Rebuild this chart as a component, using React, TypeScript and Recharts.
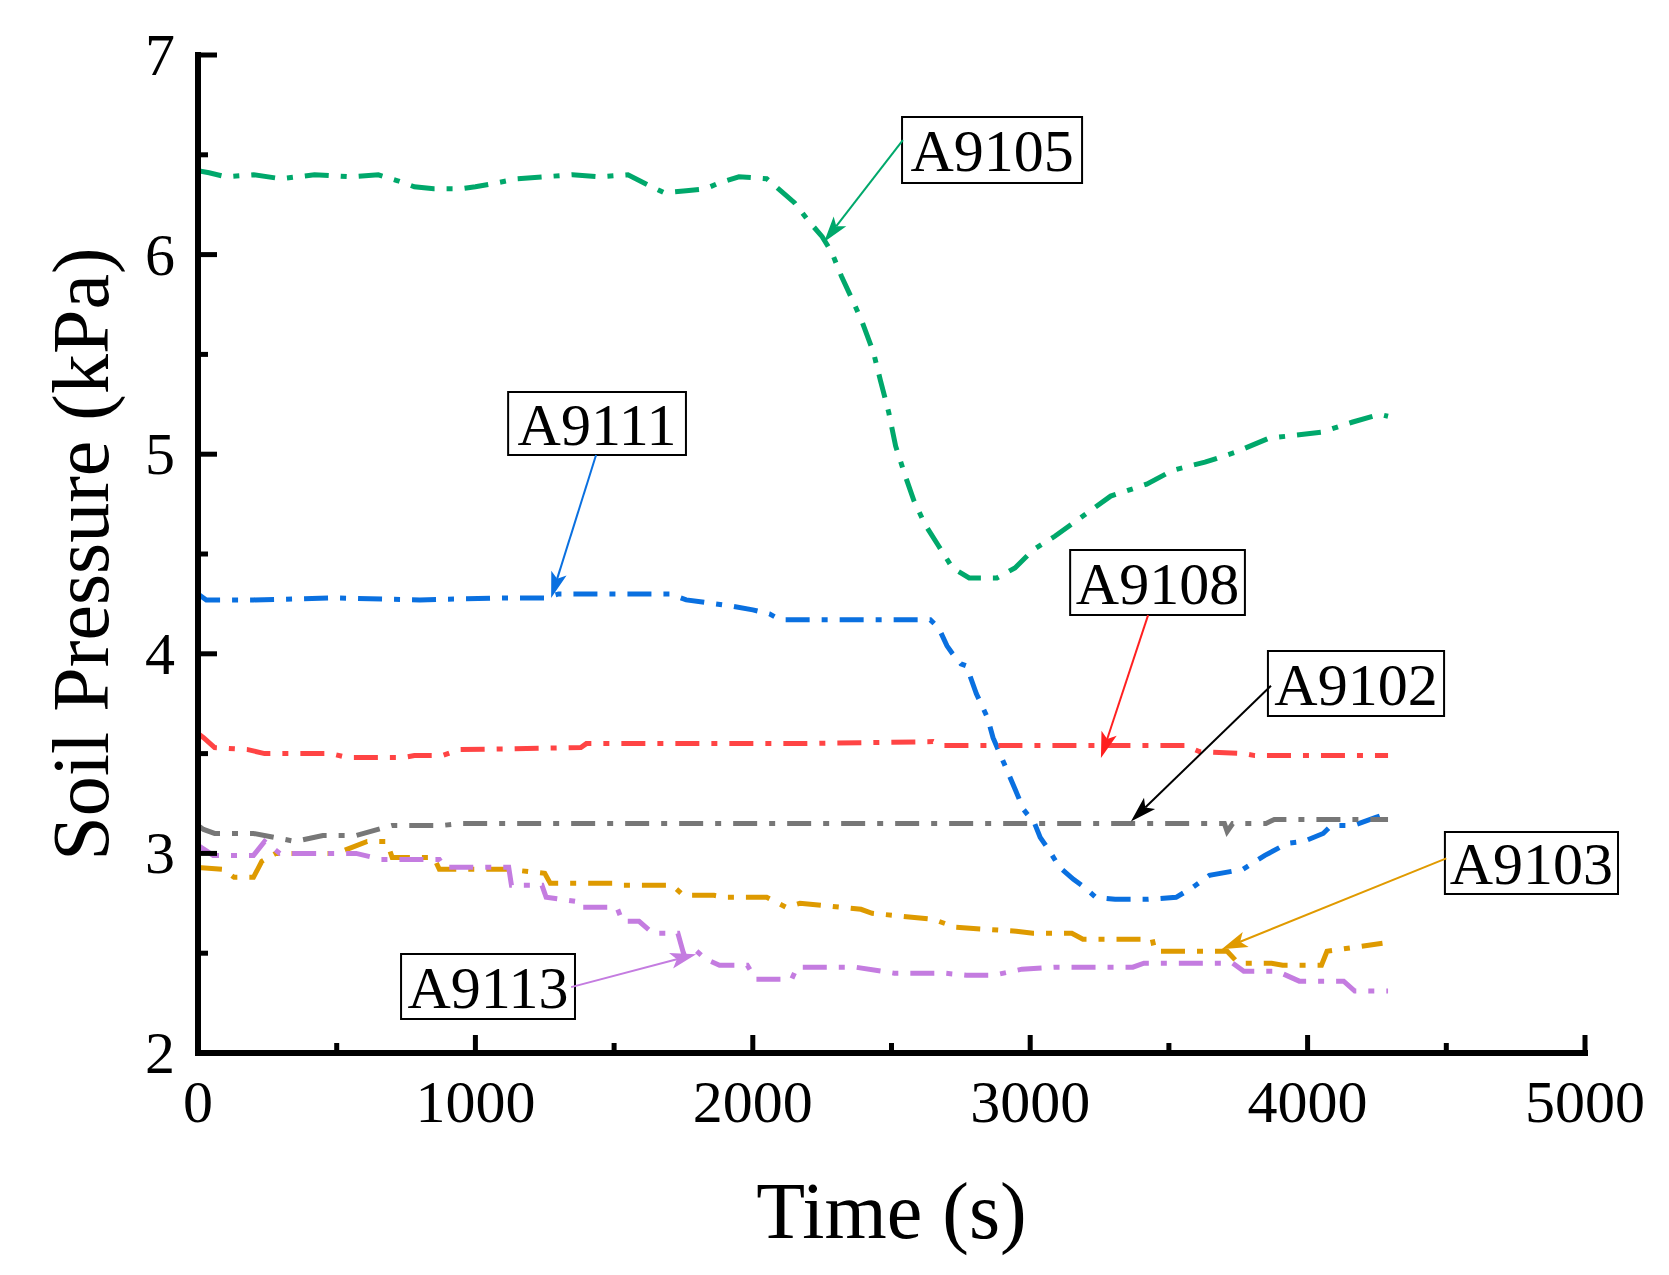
import React from 'react';
import { LineChart, Line, XAxis, YAxis, ReferenceArea, ReferenceLine } from 'recharts';

const FONT = '"Liberation Serif", "Times New Roman", serif';

// ---- tick values ----
const xTicks = [0, 500, 1000, 1500, 2000, 2500, 3000, 3500, 4000, 4500, 5000];
const yTicks = [2, 2.5, 3, 3.5, 4, 4.5, 5, 5.5, 6, 6.5, 7];

// ---- A9105 (green) ----
const a9105T = [0, 40, 100, 200, 300, 420, 550, 650, 720, 780, 850, 950, 1000, 1080, 1150, 1250, 1350, 1450, 1550, 1620, 1680, 1760, 1830, 1880, 1950, 2050, 2100, 2150, 2200, 2250, 2285, 2320, 2360, 2395, 2435, 2460, 2490, 2515, 2550, 2580, 2620, 2670, 2720, 2780, 2880, 2945, 3010, 3090, 3170, 3290, 3420, 3515, 3630, 3740, 3860, 4050, 4160, 4260, 4290];
const a9105V = [6.42, 6.41, 6.39, 6.40, 6.38, 6.40, 6.39, 6.40, 6.37, 6.34, 6.33, 6.33, 6.34, 6.36, 6.38, 6.39, 6.40, 6.39, 6.40, 6.35, 6.31, 6.32, 6.33, 6.36, 6.39, 6.38, 6.32, 6.26, 6.17, 6.09, 6.01, 5.89, 5.77, 5.66, 5.51, 5.37, 5.21, 5.04, 4.89, 4.77, 4.65, 4.54, 4.43, 4.38, 4.38, 4.43, 4.52, 4.59, 4.67, 4.79, 4.85, 4.92, 4.96, 5.01, 5.08, 5.11, 5.16, 5.20, 5.19];

// ---- A9111 (blue) ----
const a9111T = [0, 30, 200, 500, 800, 1100, 1250, 1300, 1500, 1700, 1760, 1920, 2000, 2060, 2100, 2400, 2640, 2670, 2700, 2720, 2750, 2770, 2806, 2846, 2866, 2906, 2946, 2976, 3016, 3036, 3066, 3106, 3156, 3196, 3236, 3306, 3426, 3526, 3586, 3646, 3766, 3846, 3926, 3986, 4056, 4086, 4166, 4246, 4286];
const a9111V = [4.30, 4.27, 4.27, 4.28, 4.27, 4.28, 4.28, 4.30, 4.30, 4.30, 4.27, 4.24, 4.22, 4.20, 4.17, 4.17, 4.17, 4.13, 4.04, 4.00, 3.95, 3.94, 3.80, 3.68, 3.58, 3.45, 3.32, 3.22, 3.15, 3.08, 3.02, 2.93, 2.87, 2.83, 2.78, 2.77, 2.77, 2.78, 2.83, 2.89, 2.92, 2.99, 3.05, 3.06, 3.10, 3.14, 3.14, 3.18, 3.20];

// ---- A9108 (red) ----
const a9108T = [0, 20, 60, 180, 240, 480, 540, 740, 780, 880, 940, 1380, 1400, 2170, 2650, 2680, 3560, 3610, 3770, 3810, 4290];
const a9108V = [3.60, 3.58, 3.53, 3.52, 3.50, 3.50, 3.48, 3.48, 3.49, 3.49, 3.52, 3.53, 3.55, 3.55, 3.56, 3.54, 3.54, 3.51, 3.50, 3.49, 3.49];

// ---- A9102 (grey) ----
const a9102T = [0, 20, 60, 200, 350, 450, 570, 700, 880, 950, 3700, 3710, 3730, 3850, 3880, 4290];
const a9102V = [3.14, 3.12, 3.10, 3.10, 3.06, 3.09, 3.09, 3.14, 3.14, 3.15, 3.15, 3.11, 3.15, 3.15, 3.17, 3.17];

// ---- A9103 (orange) ----
const a9103T = [0, 90, 130, 200, 230, 280, 500, 610, 680, 700, 850, 870, 1120, 1250, 1270, 1500, 1530, 1710, 1750, 1860, 1900, 2050, 2120, 2170, 2390, 2430, 2650, 2730, 2950, 3010, 3150, 3190, 3440, 3450, 3710, 3750, 3870, 3910, 4050, 4070, 4270];
const a9103V = [2.93, 2.92, 2.88, 2.88, 2.96, 3.00, 3.00, 3.06, 3.06, 2.98, 2.98, 2.92, 2.92, 2.90, 2.85, 2.85, 2.84, 2.84, 2.79, 2.79, 2.78, 2.78, 2.73, 2.75, 2.72, 2.70, 2.67, 2.63, 2.61, 2.60, 2.60, 2.57, 2.57, 2.51, 2.51, 2.45, 2.45, 2.44, 2.44, 2.51, 2.55];

// ---- A9113 (purple) ----
const a9113T = [0, 55, 200, 240, 295, 570, 660, 870, 890, 1120, 1130, 1240, 1255, 1360, 1370, 1510, 1530, 1590, 1640, 1730, 1750, 1790, 1830, 1880, 1980, 2010, 2140, 2160, 2370, 2510, 2690, 2770, 2870, 2970, 3090, 3370, 3410, 3730, 3770, 3890, 3970, 4130, 4170, 4290];
const a9113V = [3.04, 2.99, 2.99, 3.06, 3.00, 3.00, 2.97, 2.97, 2.93, 2.93, 2.84, 2.84, 2.78, 2.76, 2.73, 2.73, 2.66, 2.66, 2.60, 2.60, 2.50, 2.52, 2.47, 2.44, 2.44, 2.37, 2.37, 2.43, 2.43, 2.40, 2.40, 2.39, 2.39, 2.42, 2.43, 2.43, 2.45, 2.45, 2.41, 2.41, 2.36, 2.36, 2.31, 2.31];

// ---- annotation labels (data coordinates) ----
const labelNames = ['A9105', 'A9111', 'A9108', 'A9102', 'A9103', 'A9113'];
const labelColors = ['#00A86B', '#0A70E0', '#FF2020', '#000000', '#E09A00', '#C47CE0'];
const boxX1 = [2538, 1118, 3144, 3857, 4495, 732];
const boxX2 = [3187, 1759, 3774, 4492, 5119, 1359];
const boxY1 = [6.359, 4.996, 4.194, 3.688, 2.797, 2.170];
const boxY2 = [6.689, 5.312, 4.520, 4.014, 3.107, 2.496];
const arrowFromX = [2541, 1435, 3425, 3868, 4500, 1345];
const arrowFromY = [6.574, 4.996, 4.194, 3.840, 2.975, 2.330];
const arrowToX = [2257, 1273, 3255, 3363, 3690, 1796];
const arrowToY = [6.063, 4.280, 3.478, 3.160, 2.520, 2.495];

const zip = (t: number[], v: number[]) => t.map((x, i) => ({ t: x, v: v[i] }));

const series = [
  { name: 'A9105', color: '#00A86B', data: zip(a9105T, a9105V) },
  { name: 'A9111', color: '#0A70E0', data: zip(a9111T, a9111V) },
  { name: 'A9108', color: '#FF4444', data: zip(a9108T, a9108V) },
  { name: 'A9102', color: '#777777', data: zip(a9102T, a9102V) },
  { name: 'A9103', color: '#DE9A00', data: zip(a9103T, a9103V) },
  { name: 'A9113', color: '#C47CE0', data: zip(a9113T, a9113V) },
];

const XTick = (props: any) => {
  const { x, y, payload } = props;
  const v = payload.value;
  const major = v % 1000 === 0;
  return (
    <g>
      <line x1={x} y1={y} x2={x} y2={y - (major ? 18 : 10)} stroke="#000" strokeWidth={5} />
      {major && (
        <text x={x} y={y + 69} textAnchor="middle" fontSize={60} fontFamily={FONT} fill="#000">
          {v}
        </text>
      )}
    </g>
  );
};

const YTick = (props: any) => {
  const { x, y, payload } = props;
  const v = payload.value;
  const major = Math.abs(v - Math.round(v)) < 1e-6;
  return (
    <g>
      <line x1={x} y1={y} x2={x + (major ? 19 : 10)} y2={y} stroke="#000" strokeWidth={5} />
      {major && (
        <text x={x - 23} y={y + 20} textAnchor="end" fontSize={60} fontFamily={FONT} fill="#000">
          {v}
        </text>
      )}
    </g>
  );
};

const arrowShape = (color: string) => (props: any) => {
  const { x1, y1, x2, y2 } = props;
  const dx = x2 - x1;
  const dy = y2 - y1;
  const len = Math.hypot(dx, dy) || 1;
  const ux = dx / len;
  const uy = dy / len;
  const hl = 26;
  const hw = 8;
  const bx = x2 - ux * hl;
  const by = y2 - uy * hl;
  const nx = x2 - ux * (hl - 6);
  const ny = y2 - uy * (hl - 6);
  const pts = `${x2},${y2} ${bx - uy * hw},${by + ux * hw} ${nx},${ny} ${bx + uy * hw},${by - ux * hw}`;
  return (
    <g>
      <line x1={x1} y1={y1} x2={nx} y2={ny} stroke={color} strokeWidth={2} />
      <polygon points={pts} fill={color} />
    </g>
  );
};

export default function App() {
  return (
    <div style={{ position: 'absolute', left: 0, top: 0, width: 1669, height: 1275, background: '#fff' }}>
      <LineChart width={1669} height={1275} margin={{ top: 55, right: 84, bottom: 122, left: 98 }}>
        <XAxis
          dataKey="t"
          type="number"
          domain={[0, 5000]}
          ticks={xTicks}
          interval={0}
          allowDataOverflow
          height={100}
          tickSize={0}
          tickMargin={0}
          tickLine={false}
          tick={<XTick />}
          axisLine={{ stroke: '#000', strokeWidth: 6, strokeLinecap: 'square' }}
          label={{
            content: (p: any) => {
              const vb = p.viewBox || {};
              return (
                <text x={vb.x + vb.width / 2} y={vb.y + 185} textAnchor="middle" fontSize={80} fontFamily={FONT} fill="#000">
                  Time (s)
                </text>
              );
            },
          }}
        />
        <YAxis
          type="number"
          domain={[2, 7]}
          ticks={yTicks}
          interval={0}
          allowDataOverflow
          width={100}
          tickSize={0}
          tickMargin={0}
          tickLine={false}
          tick={<YTick />}
          axisLine={{ stroke: '#000', strokeWidth: 6, strokeLinecap: 'square' }}
          label={{
            content: (p: any) => {
              const vb = p.viewBox || {};
              const cx = vb.x + 10;
              const cy = vb.y + vb.height / 2;
              return (
                <text x={cx} y={cy} transform={`rotate(-90, ${cx}, ${cy})`} textAnchor="middle" fontSize={80} fontFamily={FONT} fill="#000">
                  Soil Pressure (kPa)
                </text>
              );
            },
          }}
        />
        {series.map((s) => (
          <Line
            key={s.name}
            data={s.data}
            dataKey="v"
            type="linear"
            stroke={s.color}
            strokeWidth={5}
            strokeDasharray="24 12 6 12"
            dot={false}
            activeDot={false}
            isAnimationActive={false}
          />
        ))}
        {labelNames.map((n, i) => (
          <ReferenceLine
            key={'arrow-' + n}
            segment={[
              { x: arrowFromX[i], y: arrowFromY[i] },
              { x: arrowToX[i], y: arrowToY[i] },
            ]}
            ifOverflow="visible"
            shape={arrowShape(labelColors[i])}
          />
        ))}
        {labelNames.map((n, i) => (
          <ReferenceArea
            key={'box-' + n}
            x1={boxX1[i]}
            x2={boxX2[i]}
            y1={boxY1[i]}
            y2={boxY2[i]}
            ifOverflow="visible"
            fill="#fff"
            fillOpacity={1}
            stroke="#000"
            strokeWidth={2}
            label={{ value: n, position: 'center', fontSize: 60, fill: '#000', fontFamily: FONT }}
          />
        ))}
      </LineChart>
    </div>
  );
}
